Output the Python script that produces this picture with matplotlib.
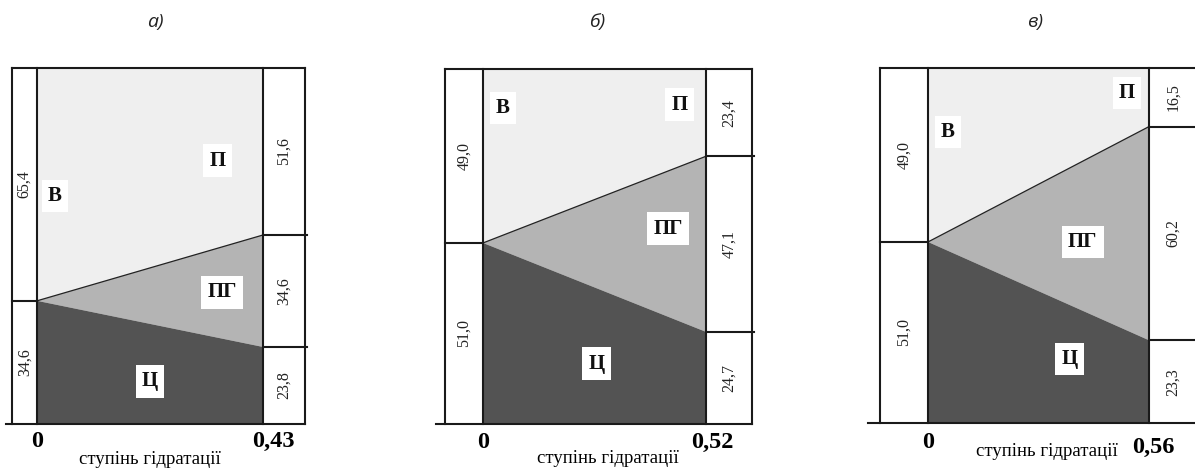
import matplotlib.pyplot as plt
from matplotlib.patches import Polygon

W, H = 1195, 468

panels = ['а)', 'б)', 'в)']
hydration = [0.43, 0.52, 0.56]
# left column: initial water / cement
water = [65.4, 49.0, 49.0]
cement0 = [34.6, 51.0, 51.0]
# right column: pores / hydration products / unreacted cement
pores = [51.6, 23.4, 16.5]
products = [34.6, 47.1, 60.2]
cement1 = [23.8, 24.7, 23.3]

# chart area in pixels: x0, x1, y0, y1, left box width, right box width
layout = [(37, 263, 68, 424, 25, 42),
          (483, 706, 69, 424, 38, 46),
          (928, 1149, 68, 423, 48, 48)]
label_pos = [
    {'В': (0.08, 0.64), 'П': (0.80, 0.74), 'ПГ': (0.82, 0.37), 'Ц': (0.50, 0.12)},
    {'В': (0.09, 0.89), 'П': (0.88, 0.90), 'ПГ': (0.83, 0.55), 'Ц': (0.51, 0.17)},
    {'В': (0.09, 0.82), 'П': (0.90, 0.93), 'ПГ': (0.70, 0.51), 'Ц': (0.64, 0.18)},
]
title_x = [155, 597, 1035]
xlabel_pos = [(0.50, -0.10), (0.56, -0.096), (0.54, -0.079)]
tick_dy = [(-0.05, -0.05), (-0.053, -0.053), (-0.056, -0.068)]
tick_dx = [10, 6, 4]   # right-end label shift, px

c_light, c_mid, c_dark = '#efefef', '#b4b4b4', '#535353'
serif = 'Liberation Serif'


def fmt(v):
    return f'{v:.1f}'.replace('.', ',')


fig = plt.figure(figsize=(W / 100, H / 100), dpi=100)

for i in range(3):
    x0, x1, y0, y1, wl, wr = layout[i]
    ax = fig.add_axes([x0 / W, 1 - y1 / H, (x1 - x0) / W, (y1 - y0) / H])
    h = hydration[i]
    ax.set_xlim(0, h)
    ax.set_ylim(0, 100)
    ax.axis('off')

    lt = water[i] + cement0[i]
    lj = cement0[i] / lt * 100
    rt = pores[i] + products[i] + cement1[i]
    rc = cement1[i] / rt * 100
    rp = (cement1[i] + products[i]) / rt * 100

    ax.add_patch(Polygon([(0, lj), (h, rp), (h, 100), (0, 100)], closed=True,
                         facecolor=c_light, edgecolor='none'))
    ax.add_patch(Polygon([(0, lj), (h, rp), (h, rc)], closed=True,
                         facecolor=c_mid, edgecolor='none'))
    ax.add_patch(Polygon([(0, 0), (0, lj), (h, rc), (h, 0)], closed=True,
                         facecolor=c_dark, edgecolor='none'))
    ax.plot([0, h], [lj, rp], color='#222222', lw=0.9)

    dl = h * wl / (x1 - x0)
    dr = h * wr / (x1 - x0)
    kw = dict(color='#1a1a1a', lw=1.5, clip_on=False, solid_capstyle='projecting')
    ax.plot([-dl, h + dr], [100, 100], **kw)
    ax.plot([-dl * 1.25, h + dr], [0, 0], **kw)
    for xv in (-dl, 0, h, h + dr):
        ax.plot([xv, xv], [0, 100], **kw)
    ax.plot([-dl, 0], [lj, lj], **kw)
    ax.plot([h, h + dr * 1.05], [rc, rc], **kw)
    ax.plot([h, h + dr * 1.05], [rp, rp], **kw)

    # side values
    tkw = dict(rotation=90, ha='center', va='center', fontsize=11.5,
               family=serif, color='#222222', clip_on=False)
    ax.text(-dl / 2, (lj + 100) / 2, fmt(water[i]), **tkw)
    ax.text(-dl / 2, lj / 2, fmt(cement0[i]), **tkw)
    ax.text(h + dr / 2, (rp + 100) / 2, fmt(pores[i]), **tkw)
    ax.text(h + dr / 2, (rc + rp) / 2, fmt(products[i]), **tkw)
    ax.text(h + dr / 2, rc / 2, fmt(cement1[i]), **tkw)

    # region labels
    for name, (fx, fy) in label_pos[i].items():
        ax.text(fx, fy, name, transform=ax.transAxes, ha='center', va='center',
                fontsize=15, fontweight='bold', family=serif, color='#111111',
                bbox=dict(boxstyle='square,pad=0.3', facecolor='white',
                          edgecolor='none'))

    # axis end labels
    xt = ax.get_xaxis_transform()
    ax.text(0, tick_dy[i][0], '0', transform=xt, ha='center', va='center',
            fontsize=17.5, fontweight='bold', family=serif, clip_on=False)
    ax.annotate(f'{h:.2f}'.replace('.', ','), xy=(h, tick_dy[i][1]),
                xycoords=xt, xytext=(tick_dx[i] * 0.72, 0),
                textcoords='offset points', ha='center', va='center',
                fontsize=17.5, fontweight='bold', family=serif,
                annotation_clip=False)
    ax.text(xlabel_pos[i][0], xlabel_pos[i][1], 'ступінь гідратації',
            transform=ax.transAxes, ha='center', va='center', fontsize=13.5,
            family=serif, clip_on=False)

    fig.text(title_x[i] / W, 1 - 22 / H, panels[i], ha='center', va='center',
             fontsize=14, style='italic', family='Open Sans', color='#222222')

fig.savefig('out.png', dpi=100)
